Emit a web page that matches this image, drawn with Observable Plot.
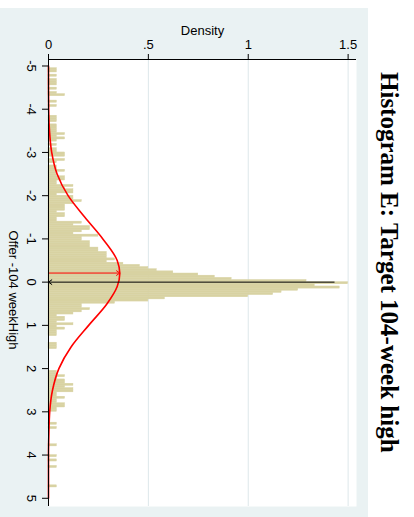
<!DOCTYPE html>
<html>
<head>
<meta charset="utf-8">
<script src="https://cdn.jsdelivr.net/npm/d3@7"></script>
<script src="https://cdn.jsdelivr.net/npm/@observablehq/plot@0.6"></script>
<style>
  html, body { margin: 0; padding: 0; background: #ffffff; }
  #wrap { position: relative; width: 414px; height: 517px; overflow: hidden; }
  #chart { position: absolute; left: 0; top: 8px; width: 368px; height: 509px; background: #eaf2f3; }
  #title { position: absolute; left: 366px; top: 0; width: 46px; height: 517px; padding-top: 7px; box-sizing: border-box;
           writing-mode: vertical-rl; text-align: center; line-height: 46px;
           font-family: "Liberation Serif", "Times New Roman", serif; font-weight: bold; font-size: 25px; color: #000; white-space: nowrap; }
</style>
</head>
<body>
<div id="wrap">
  <div id="chart"></div>
  <div id="title">Histogram E: Target 104-week high</div>
</div>
<script>
// Histogram bins (lower edge of each bin, offer - 104 week high) and their densities
const binWidth = 0.05;
const binStart = [-4.95,-4.90,-4.80,-4.70,-4.65,-4.60,-4.50,-4.40,-4.35,-4.20,-4.10,-3.85,-3.80,-3.75,-3.65,-3.60,-3.55,-3.50,-3.45,-3.40,-3.35,-3.30,-3.20,-3.10,-3.05,-3.00,-2.95,-2.85,-2.80,-2.70,-2.65,-2.60,-2.55,-2.50,-2.45,-2.40,-2.35,-2.30,-2.25,-2.20,-2.15,-2.10,-2.05,-2.00,-1.95,-1.90,-1.85,-1.80,-1.75,-1.70,-1.65,-1.60,-1.55,-1.50,-1.45,-1.40,-1.35,-1.30,-1.25,-1.20,-1.15,-1.10,-1.05,-1.00,-0.95,-0.90,-0.85,-0.80,-0.75,-0.70,-0.65,-0.60,-0.55,-0.50,-0.45,-0.40,-0.35,-0.30,-0.25,-0.20,-0.15,-0.10,-0.05,0.00,0.05,0.10,0.15,0.20,0.25,0.30,0.35,0.40,0.45,0.50,0.55,0.60,0.65,0.70,0.75,0.80,0.85,0.90,0.95,1.00,1.05,1.10,1.15,1.20,1.40,1.45,1.50,2.05,2.10,2.15,2.20,2.25,2.30,2.35,2.40,2.45,2.50,2.55,2.60,2.65,2.70,2.75,2.80,2.85,2.90,2.95,3.25,3.35,3.75,4.00,4.10,4.25,4.70];
const density = [0.042,0.042,0.042,0.042,0.042,0.042,0.042,0.042,0.083,0.042,0.042,0.042,0.042,0.042,0.042,0.042,0.042,0.042,0.083,0.042,0.083,0.042,0.042,0.042,0.042,0.083,0.083,0.083,0.042,0.042,0.042,0.083,0.042,0.042,0.083,0.083,0.042,0.042,0.125,0.083,0.125,0.125,0.042,0.125,0.125,0.167,0.125,0.083,0.083,0.083,0.042,0.083,0.083,0.042,0.042,0.167,0.125,0.208,0.208,0.167,0.125,0.250,0.167,0.167,0.208,0.208,0.208,0.250,0.250,0.292,0.292,0.292,0.333,0.292,0.375,0.458,0.500,0.542,0.625,0.750,0.833,0.917,1.292,1.500,1.333,1.458,1.250,1.167,1.125,1.000,0.583,0.500,0.333,0.167,0.167,0.208,0.167,0.125,0.042,0.083,0.083,0.042,0.125,0.042,0.083,0.042,0.042,0.042,0.042,0.042,0.042,0.042,0.042,0.083,0.042,0.083,0.083,0.125,0.083,0.125,0.125,0.042,0.042,0.083,0.042,0.042,0.083,0.083,0.042,0.042,0.042,0.042,0.042,0.042,0.042,0.042,0.042];

// Normal density overlay
const curveOffer   = [-5.0, -4.5, -4.0, -3.5, -3.0, -2.5, -2.0, -1.5, -1.0, -0.5, -0.2, 0.1, 0.5, 1.0, 1.5, 2.0, 2.5, 3.0, 3.5, 4.0, 4.5, 5.0];
const curveDensity = [0.000, 0.000, 0.001, 0.005, 0.016, 0.043, 0.098, 0.182, 0.272, 0.344, 0.357, 0.344, 0.293, 0.201, 0.113, 0.052, 0.020, 0.006, 0.002, 0.000, 0.000, 0.000];

// Arrows: mean of the fitted normal (red) and the spike at zero (black)
const meanOffer = [-0.21];
const meanPeak = [0.357];
const spikeOffer = [0];
const spikeTop = [1.43];

// Axes
const densityTicks = [0, 0.5, 1, 1.5];
const densityTickLabels = ["0", ".5", "1", "1.5"];
const offerTicks = [-5, -4, -3, -2, -1, 0, 1, 2, 3, 4, 5];
const offerTickLabels = ["-5", "-4", "-3", "-2", "-1", "0", "1", "2", "3", "4", "5"];
const xLabel = "Density";
const yLabel = "Offer -104 weekHigh";

const bins = binStart.map((s, i) => ({lo: s, hi: s + binWidth, d: density[i]}));
const curve = curveOffer.map((o, i) => ({o, d: curveDensity[i]}));

const yTop = -5.15, yBottom = 5.19;

const chart = Plot.plot({
  width: 368,
  height: 509,
  marginLeft: 48,
  marginRight: 12,
  marginTop: 51,
  marginBottom: 11,
  x: {domain: [0, 1.542], axis: null},
  y: {domain: [yTop, yBottom], reverse: true, axis: null},
  style: {background: "transparent", fontFamily: "'Liberation Sans', Arial, sans-serif", fontSize: "13px", color: "#000"},
  marks: [
    Plot.frame({fill: "#ffffff", stroke: null}),
    Plot.gridX(densityTicks.slice(1), {stroke: "#dde7ea", strokeOpacity: 1, strokeWidth: 1}),
    Plot.rectX(bins, {y1: "lo", y2: "hi", x1: 0, x2: "d", fill: "#d8d2a2", stroke: "#d8d2a2", strokeWidth: 0.4}),
    Plot.line(curve, {x: "d", y: "o", stroke: "#ff0000", strokeWidth: 1.6, curve: "monotone-y"}),
    Plot.arrow(meanOffer, {x1: 0, x2: meanPeak, y1: meanOffer, y2: meanOffer, stroke: "#ff0000", strokeWidth: 1, headLength: 6, headAngle: 70}),
    Plot.arrow(spikeOffer, {x1: spikeTop, x2: 0, y1: spikeOffer, y2: spikeOffer, stroke: "#000000", strokeWidth: 1, headLength: 6, headAngle: 70}),
    Plot.ruleX([0], {stroke: "#000", strokeWidth: 1}),
    Plot.ruleY([yTop], {stroke: "#000", strokeWidth: 1}),
    Plot.axisX({anchor: "top", ticks: densityTicks, tickFormat: (d) => densityTickLabels[densityTicks.indexOf(d)], tickSize: 6, tickPadding: 5, label: null, stroke: "#000"}),
    Plot.axisY({anchor: "left", ticks: offerTicks, tickFormat: d => offerTickLabels[offerTicks.indexOf(d)], tickSize: 6, tickPadding: 6, tickRotate: 90, label: null, stroke: "#000"}),
    Plot.text([xLabel], {frameAnchor: "top", lineAnchor: "middle", dy: -29, fill: "#000", fontSize: 13}),
    Plot.text([yLabel], {frameAnchor: "left", textAnchor: "middle", lineAnchor: "middle", rotate: 90, dx: -35, dy: 7, fill: "#000", fontSize: 13})
  ]
});
document.getElementById("chart").appendChild(chart);
</script>
</body>
</html>
